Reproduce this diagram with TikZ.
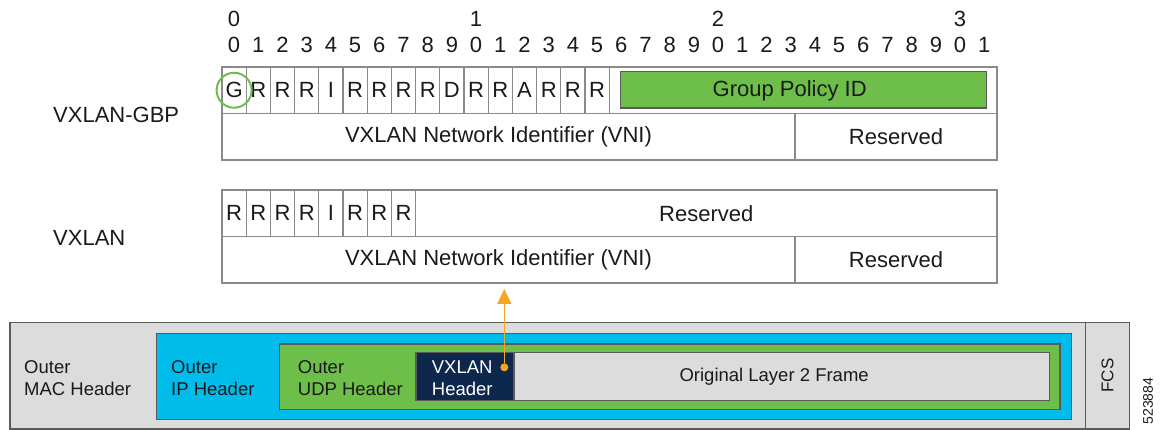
\documentclass[tikz,border=0pt]{standalone}
\usepackage{fontspec}
\setmainfont{Liberation Sans}
\usepackage{xcolor}
\usetikzlibrary{arrows.meta, positioning}
\definecolor{framegray}{HTML}{DCDCDC}
\definecolor{ipblue}{HTML}{00BCEB}
\definecolor{udpgreen}{HTML}{6EBE4A}
\definecolor{vxnavy}{HTML}{0D274D}
\definecolor{linkorange}{HTML}{F5A623}
\definecolor{rulegray}{HTML}{8A8A8A}
\definecolor{edgegray}{HTML}{5A5A5A}
\definecolor{inkblack}{HTML}{1A1A1A}

\begin{document}
\begin{tikzpicture}[
    x=1pt, y=-1pt,
    every node/.style={text=inkblack},
    bit/.style={rectangle, draw=rulegray, line width=1.3pt, minimum width=24.2pt, minimum height=46.5pt, inner sep=0pt, outer sep=0pt, anchor=north west, font=\fontsize{22}{24}\selectfont},
    field/.style={bit, minimum width=#1},
    digit/.style={font=\fontsize{22}{24}\selectfont, inner sep=0pt},
    rowname/.style={font=\fontsize{22}{24}\selectfont, anchor=base west, inner sep=0pt},
    policy/.style={rectangle, draw=edgegray, line width=1.2pt, fill=udpgreen, minimum width=366pt, minimum height=36.3pt, inner sep=0pt},
    layer/.style={rectangle, draw=edgegray, line width=1.3pt, fill=#1, anchor=north west, inner sep=0pt, outer sep=0pt, font=\fontsize{18.5}{22}\selectfont},
    layertext/.style={align=left, anchor=west, inner sep=0pt, font=\fontsize{18.5}{22}\selectfont},
    arrow/.style={-{Triangle[width=14pt,length=15pt]}, line width=1.5pt, draw=linkorange}
]
    \useasboundingbox (0,0) rectangle (1168,430);

    \foreach \d in {0,1,2,3}
        \node[digit] (top\d) at (234.1+\d*242, 19) {\d};
    \foreach \i [evaluate=\i as \d using {int(mod(\i,10))}] in {0,...,31}
        \node[digit] (bitno\i) at (234.1+\i*24.2, 45) {\d};

    \node[rowname] (gbpname) at (53,123) {VXLAN-GBP};
    \foreach \b [count=\i from 0] in {G,R,R,R,I,R,R,R,R,D,R,R,A,R,R,R}
        \node[bit] (g\i) at (222+\i*24.2, 67) {\b};
    \node[field=387.6pt] (gpolicy) at (609.4,67) {};
    \node[policy, label={[digit, xshift=-14pt, yshift=-1pt]center:Group Policy ID}] (gpid) at (803.7,89.9) {};
    \node[field=573pt, label={[digit, xshift=-10pt]center:VXLAN Network Identifier (VNI)}] (gvni) at (222,113.5) {};
    \node[field=202pt] (gres) at (795,113.5) {Reserved};
    \node[circle, draw=udpgreen, line width=2pt, minimum size=35pt, inner sep=0pt] (gmark) at (g0.center) {};

    \node[rowname] (vxname) at (53,245.7) {VXLAN};
    \foreach \b [count=\i from 0] in {R,R,R,R,I,R,R,R}
        \node[bit] (v\i) at (222+\i*24.2, 190) {\b};
    \node[field=581.4pt] (vres) at (415.6,190) {Reserved};
    \node[field=573pt, label={[digit, xshift=-10pt]center:VXLAN Network Identifier (VNI)}] (vvni) at (222,236.5) {};
    \node[field=202pt] (vres2) at (795,236.5) {Reserved};

    \node[layer=framegray, minimum width=1075.7pt, minimum height=106.7pt] (mac) at (10,322.3) {};
    \node[layer=framegray, minimum width=43.6pt, minimum height=106.7pt] (fcs) at (1085.7,322.3) {};
    \node[layer=ipblue, minimum width=915pt, minimum height=86pt] (ip) at (156.7,333.3) {};
    \node[layer=udpgreen, minimum width=780.7pt, minimum height=65.3pt] (udp) at (279.3,344) {};
    \node[layer=vxnavy, minimum width=98pt, minimum height=48.5pt] (vxhdr) at (416,352.3) {};
    \node[layer=framegray, minimum width=535.3pt, minimum height=48.5pt, label={[layertext, anchor=center, xshift=-7.5pt]center:Original Layer 2 Frame}] (l2frame) at (514,352.3) {};

    \node[layertext] (mactext) at (24,378) {Outer\\MAC Header};
    \node[layertext] (iptext) at (171,378) {Outer\\IP Header};
    \node[layertext] (udptext) at (297.7,378) {Outer\\UDP Header};
    \node[layertext, text=white] (vxtext) at (431.7,378) {VXLAN\\Header};
    \node[layertext, rotate=90, anchor=center, font=\fontsize{17}{20}\selectfont] (fcstext) at (fcs.center) {FCS};
    \node[rotate=90, inner sep=0pt, font=\fontsize{14}{16}\selectfont] (figid) at (1148,401) {523884};

    \node[circle, fill=linkorange, inner sep=0pt, minimum size=8pt] (vxdot) at (504.3,367.3) {};
    \draw[arrow, shorten >=6pt] (vxdot) -- (vxdot |- vvni.south);
\end{tikzpicture}
\end{document}
